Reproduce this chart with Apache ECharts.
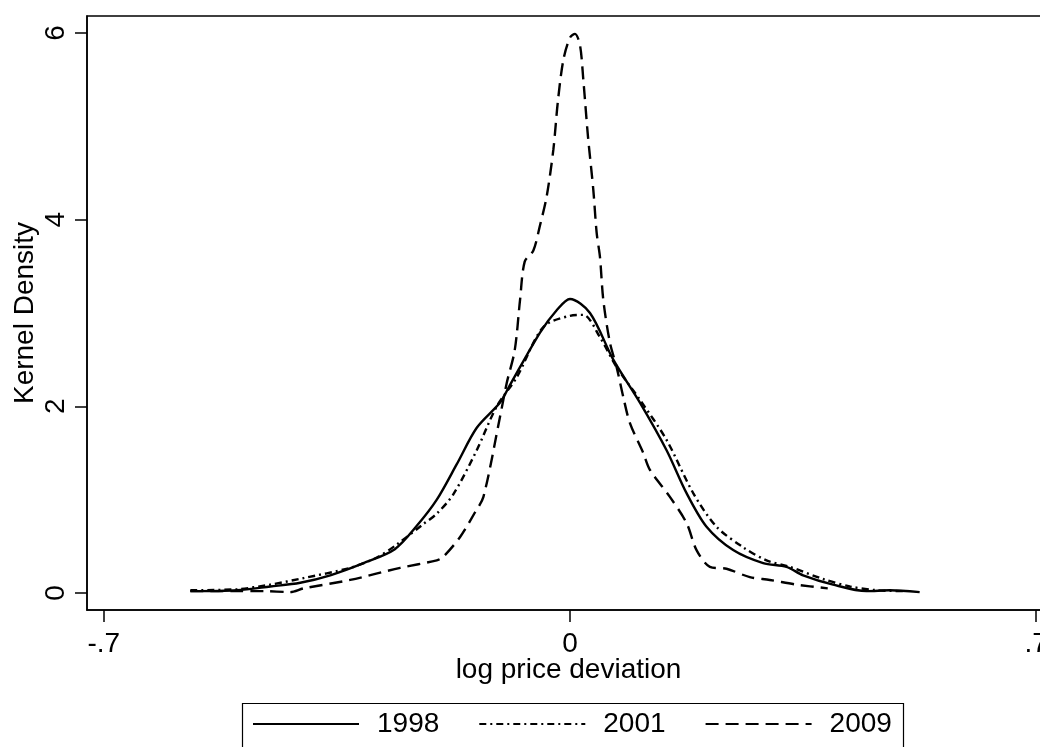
<!DOCTYPE html>
<html>
<head>
<meta charset="utf-8">
<script src="https://cdn.jsdelivr.net/npm/echarts@6/dist/echarts.min.js"></script>
<style>
html,body{margin:0;padding:0;background:#fff;}
#chart{width:1040px;height:747px;}
</style>
</head>
<body>
<div id="chart"></div>
<script>
const seriesNames = ['1998', '2001', '2009'];
const xTickValues = [-0.7, 0, 0.7];
const xTickLabels = ['-.7', '0', '.7'];
const yTickValues = [0, 2, 4, 6];
const yTickLabels = ['0', '2', '4', '6'];

const x1998 = [-0.57,-0.50,-0.45,-0.405,-0.36,-0.31,-0.263,-0.23,-0.2,-0.17,-0.14,-0.105,-0.09,-0.045,-0.02,0,0.03,0.065,0.105,0.145,0.175,0.205,0.245,0.29,0.325,0.35,0.395,0.445,0.48,0.525];
const y1998 = [0.02,0.03,0.07,0.11,0.19,0.32,0.47,0.72,1.0,1.38,1.77,2.04,2.23,2.79,3.03,3.15,3.0,2.5,2.04,1.53,1.07,0.71,0.46,0.32,0.28,0.19,0.09,0.02,0.03,0.01];

const x2001 = [-0.57,-0.5,-0.45,-0.4,-0.33,-0.29,-0.26,-0.22,-0.2,-0.175,-0.14,-0.11,-0.08,-0.04,0,0.02,0.045,0.07,0.105,0.145,0.185,0.22,0.26,0.295,0.33,0.38,0.42,0.46,0.5];
const y2001 = [0.03,0.04,0.09,0.16,0.27,0.38,0.52,0.74,0.85,1.06,1.53,2.0,2.31,2.85,2.97,2.98,2.74,2.42,2.07,1.64,1.07,0.71,0.49,0.35,0.28,0.15,0.07,0.03,0.02];

const x2009 = [-0.57,-0.5,-0.46,-0.42,-0.4,-0.33,-0.255,-0.2,-0.19,-0.165,-0.143,-0.13,-0.105,-0.095,-0.083,-0.075,-0.068,-0.055,-0.045,-0.035,-0.025,-0.018,-0.01,0,0.0075,0.015,0.02,0.027,0.035,0.04,0.045,0.05,0.06,0.07,0.08,0.09,0.11,0.12,0.15,0.175,0.19,0.21,0.235,0.27,0.3,0.34,0.387];
const y2009 = [0.02,0.02,0.02,0.01,0.05,0.14,0.27,0.35,0.39,0.6,0.86,1.03,1.89,2.25,2.6,3.14,3.55,3.67,3.94,4.25,4.75,5.28,5.71,5.95,5.99,5.87,5.5,4.89,4.32,3.86,3.6,3.14,2.68,2.42,2.1,1.82,1.5,1.32,1.03,0.75,0.46,0.28,0.26,0.17,0.14,0.09,0.05];

function zip(xs, ys) { return xs.map((x, i) => [x, ys[i]]); }

const FONT = 'Liberation Sans, Arial, Helvetica, sans-serif';
const chart = echarts.init(document.getElementById('chart'), null, {renderer: 'canvas'});

const lineBase = {type: 'line', symbol: 'none', showSymbol: false, smooth: 0.3, animation: false, z: 3};

chart.setOption({
  animation: false,
  backgroundColor: '#ffffff',
  grid: {
    left: 87, top: 16, right: -10, bottom: 137,
    containLabel: false, outerBoundsMode: 'none',
    show: true, borderColor: '#000', borderWidth: 1.5, backgroundColor: 'transparent'
  },
  xAxis: {
    type: 'value',
    min: -0.7252, max: 0.7207,
    name: 'log price deviation',
    nameLocation: 'middle',
    nameGap: 46,
    nameMoveOverlap: false,
    nameTextStyle: {fontFamily: FONT, fontSize: 28, color: '#000'},
    splitLine: {show: false},
    axisLine: {show: true, onZero: false, lineStyle: {color: '#000', width: 1.5}},
    axisTick: {show: true, customValues: xTickValues, length: 12, lineStyle: {color: '#000', width: 1.5}},
    axisLabel: {
      customValues: xTickValues,
      margin: 20,
      fontFamily: FONT, fontSize: 28, color: '#000',
      formatter: v => xTickLabels[xTickValues.findIndex(t => Math.abs(t - v) < 1e-6)] ?? ''
    }
  },
  yAxis: {
    type: 'value',
    min: -0.182, max: 6.182,
    name: 'Kernel Density',
    nameLocation: 'middle',
    nameGap: 48,
    nameMoveOverlap: false,
    nameTextStyle: {fontFamily: FONT, fontSize: 28, color: '#000'},
    splitLine: {show: false},
    axisLine: {show: true, onZero: false, lineStyle: {color: '#000', width: 1.5}},
    axisTick: {show: true, customValues: yTickValues, length: 12, lineStyle: {color: '#000', width: 1.5}},
    axisLabel: {
      customValues: yTickValues,
      rotate: 90,
      margin: 17,
      fontFamily: FONT, fontSize: 28, color: '#000',
      formatter: v => yTickLabels[yTickValues.findIndex(t => Math.abs(t - v) < 1e-6)] ?? ''
    }
  },
  legend: {
    data: seriesNames,
    left: 252, top: 710,
    itemWidth: 106, itemHeight: 14, itemGap: 39,
    padding: 0,
    itemStyle: {opacity: 0},
    textStyle: {fontFamily: FONT, fontSize: 28, color: '#000', padding: [0, 0, 0, 13]},
    borderWidth: 0
  },
  graphic: [{
    type: 'rect', left: 240, top: 701, z: 10,
    shape: {width: 661, height: 70},
    style: {fill: 'none', stroke: '#000', lineWidth: 1.2}
  }],
  series: [
    Object.assign({}, lineBase, {name: seriesNames[0], data: zip(x1998, y1998),
      lineStyle: {color: '#000', width: 2.4, type: 'solid'}, itemStyle: {color: '#000'}}),
    Object.assign({}, lineBase, {name: seriesNames[1], data: zip(x2001, y2001),
      lineStyle: {color: '#000', width: 2.4, type: [7, 4, 2, 4]}, itemStyle: {color: '#000'}}),
    Object.assign({}, lineBase, {name: seriesNames[2], data: zip(x2009, y2009),
      lineStyle: {color: '#000', width: 2.4, type: [13, 7]}, itemStyle: {color: '#000'}})
  ]
});
</script>
</body>
</html>
